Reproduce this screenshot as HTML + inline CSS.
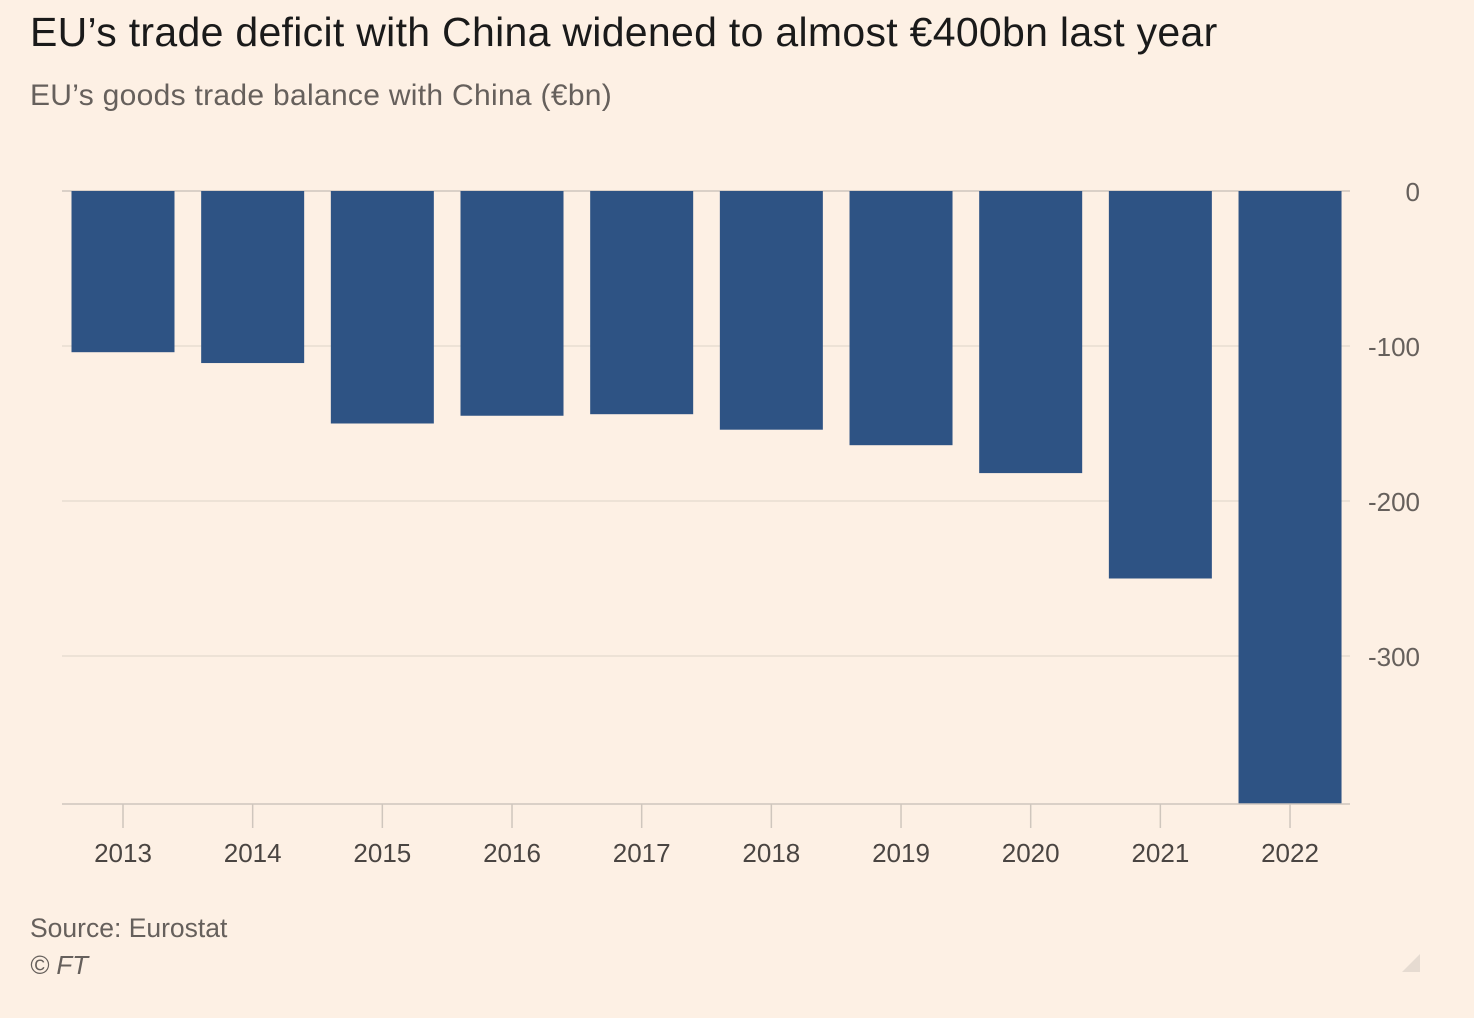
<!DOCTYPE html>
<html><head><meta charset="utf-8"><style>
body{margin:0;background:#fdf0e4;width:1474px;height:1018px;overflow:hidden;font-family:"Liberation Sans",sans-serif;}
#t{position:absolute;left:30px;top:9px;font-size:41px;letter-spacing:0.3px;color:#1a1a1a;}
#s{position:absolute;left:30px;top:79px;font-size:30px;letter-spacing:0.3px;color:#66605c;}
#src{position:absolute;left:30px;top:913px;font-size:26.5px;color:#66605c;}
#ft{position:absolute;left:30px;top:950px;font-size:26px;color:#66605c;font-style:italic;}
svg{position:absolute;left:0;top:0;}
</style></head><body>
<div id="t">EU’s trade deficit with China widened to almost €400bn last year</div>
<div id="s">EU’s goods trade balance with China (€bn)</div>
<svg id="c" width="1474" height="1018"></svg>
<div id="src">Source: Eurostat</div>
<div id="ft">© FT</div>
<script>
const categories=["2013","2014","2015","2016","2017","2018","2019","2020","2021","2022"];
const values=[-104,-111,-150,-145,-144,-154,-164,-182,-250,-396];
const ticks=[0,-100,-200,-300];
const tickLabels=["0","-100","-200","-300"];
const NS="http://www.w3.org/2000/svg";
const svg=document.getElementById('c');
const y0=191,ppu=1.55;
const y=v=>y0-v*ppu;
const bottom=804;
const x=i=>123+i*129.67;
function mk(t,a){const e=document.createElementNS(NS,t);for(const k in a)e.setAttribute(k,a[k]);svg.appendChild(e);return e;}
ticks.forEach((t,i)=>{
 const l=mk('line',{x1:62,x2:1350,y1:y(t),y2:y(t),stroke:i==0?'#cfc6bd':'#e8ddd2','stroke-width':1.5});
 
 
 const tx=mk('text',{x:1420,y:y(t)+10,'text-anchor':'end','font-size':26,fill:'#66605c','font-family':'Liberation Sans, sans-serif'});
 tx.textContent=tickLabels[i];
 
 
});
values.forEach((v,i)=>{
 const yb=Math.min(y(v),bottom);
 const r=mk('rect',{x:x(i)-51.5,y:y0,width:103,height:yb-y0,fill:'#2e5384'});
 
 
 const tk=mk('line',{x1:x(i),x2:x(i),y1:bottom,y2:828,stroke:'#cfc6bd','stroke-width':1.5});
 
 
 const tx=mk('text',{x:x(i),y:862,'text-anchor':'middle','font-size':26,fill:'#4a4542','font-family':'Liberation Sans, sans-serif'});
 tx.textContent=categories[i];
 
 
});
const ax=mk('line',{x1:62,x2:1350,y1:bottom,y2:bottom,stroke:'#cfc6bd','stroke-width':1.5});


const tri=mk('polygon',{points:'1420,954 1420,972 1402,972',fill:'#e6dbd1'});


</script>
</body></html>
